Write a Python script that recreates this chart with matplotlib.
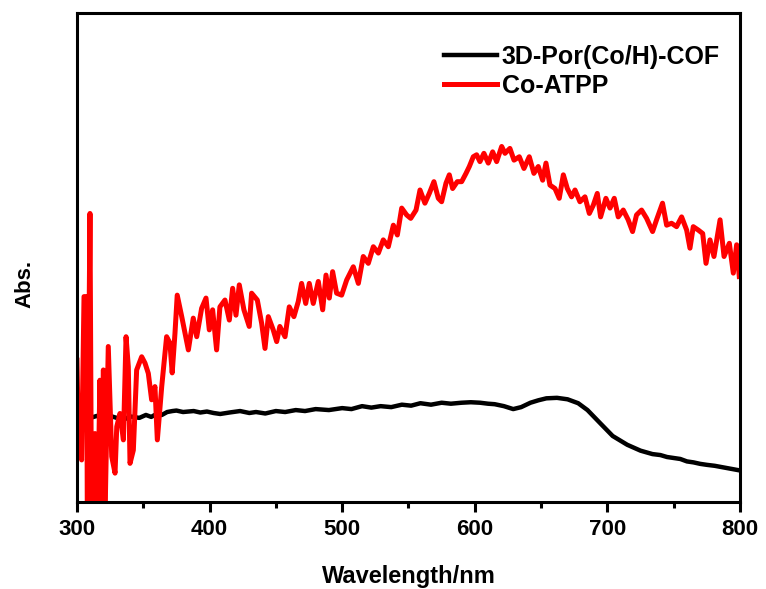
import matplotlib
matplotlib.use("Agg")
import matplotlib.pyplot as plt
from matplotlib.ticker import MultipleLocator

plt.rcParams['font.family'] = ['Liberation Sans', 'DejaVu Sans']
plt.rcParams['font.weight'] = 'bold'

# 3D-Por(Co/H)-COF (black)
wl_cof = [300, 305, 310, 315, 320, 325, 330, 335, 340, 347, 352, 356, 360, 364, 368, 372,
          375, 380, 388, 393, 398, 403, 408, 415, 423, 430, 435, 442, 450, 457, 465, 472,
          480, 490, 500, 507, 515, 522, 529, 537, 545, 552, 559, 567, 575, 582, 590, 597,
          604, 610, 615, 622, 629, 635, 642, 648, 654, 662, 670, 678, 685, 695, 704, 715,
          725, 734, 740, 745, 750, 755, 760, 765, 770, 775, 781, 787, 793, 799]
abs_cof = [0.174, 0.168, 0.172, 0.176, 0.170, 0.176, 0.172, 0.168, 0.175, 0.172, 0.178,
           0.174, 0.180, 0.178, 0.184, 0.186, 0.187, 0.184, 0.186, 0.183, 0.185, 0.182,
           0.180, 0.183, 0.186, 0.182, 0.184, 0.181, 0.186, 0.184, 0.188, 0.186, 0.190,
           0.188, 0.192, 0.190, 0.196, 0.193, 0.196, 0.194, 0.199, 0.197, 0.202, 0.199,
           0.203, 0.201, 0.203, 0.204, 0.203, 0.201, 0.200, 0.196, 0.190, 0.194, 0.203,
           0.208, 0.212, 0.213, 0.210, 0.202, 0.188, 0.160, 0.135, 0.117, 0.105, 0.098,
           0.096, 0.092, 0.090, 0.088, 0.083, 0.081, 0.078, 0.076, 0.074, 0.071, 0.068,
           0.065]

# Co-ATPP (red)
wl_atpp = [300, 301, 303.5, 305.3, 307.3, 307.8, 309.8, 311, 313.6, 315.5, 317.3, 318.6,
           319.9, 321, 323.6, 326.2, 328.7, 330, 332.4, 335, 337, 338.7, 340, 342.5, 345,
           348.8, 351.3, 353.8, 356.3, 358.8, 360.6, 363.9, 367.6, 370.1, 371.8, 373.9,
           375.6, 379, 384, 387.7, 390.3, 394, 397.3, 399.8, 402.3, 405.3, 407.8, 411.6,
           414.9, 417.4, 419.9, 422.4, 425.9, 429.9, 431.7, 436, 439.3, 441.8, 444.3, 448,
           450.6, 453, 456.9, 460.1, 463.6, 466.9, 469.4, 472.5, 475.2, 478.2, 482, 485.3,
           487.8, 490.3, 492.8, 495.8, 499.6, 503.4, 508.4, 512.2, 515.9, 519.7, 523.5,
           527.3, 531, 534.8, 538.6, 541.6, 544.9, 548.6, 551.7, 555.7, 558.7, 562.4,
           565.7, 569.2, 572.5, 575, 578.3, 580.8, 583.3, 586.8, 590.1, 593.4, 595.9,
           598.9, 601.4, 603.9, 606.9, 610.2, 613.5, 616.5, 620.3, 622.8, 626.5, 629.6,
           633.6, 637.1, 641.1, 644.6, 647.9, 651.2, 653.7, 656.7, 660.5, 663.7, 666.8,
           669.8, 673, 675.6, 679.3, 683.1, 686.4, 689.4, 692.4, 694.9, 698.9, 702,
           705.2, 708.2, 712, 715.7, 719, 722, 725.8, 729.6, 734.1, 737.1, 741.6, 744.7,
           748.4, 752.2, 756, 759.8, 762.3, 764.8, 768.6, 771.9, 774.4, 777.4, 780.4,
           785, 788, 792, 795, 797.5, 799.5]
abs_atpp = [0.290, 0.140, 0.086, 0.420, 0.420, -0.05, 0.590, -0.05, 0.140, -0.05, 0.249,
            -0.05, 0.270, -0.05, 0.318, 0.093, 0.059, 0.154, 0.181, 0.127, 0.338, 0.277,
            0.079, 0.106, 0.270, 0.297, 0.284, 0.263, 0.209, 0.236, 0.127, 0.236, 0.338,
            0.325, 0.264, 0.345, 0.423, 0.379, 0.311, 0.376, 0.338, 0.396, 0.417, 0.352,
            0.393, 0.311, 0.399, 0.413, 0.372, 0.437, 0.382, 0.444, 0.393, 0.359, 0.427,
            0.413, 0.365, 0.314, 0.379, 0.352, 0.328, 0.359, 0.338, 0.399, 0.379, 0.410,
            0.447, 0.406, 0.447, 0.406, 0.451, 0.393, 0.464, 0.417, 0.471, 0.427, 0.423,
            0.454, 0.481, 0.447, 0.502, 0.488, 0.522, 0.509, 0.536, 0.522, 0.566, 0.546,
            0.601, 0.587, 0.580, 0.597, 0.638, 0.611, 0.631, 0.655, 0.621, 0.614, 0.652,
            0.669, 0.641, 0.655, 0.655, 0.672, 0.686, 0.706, 0.710, 0.696, 0.713, 0.693,
            0.716, 0.696, 0.727, 0.713, 0.723, 0.699, 0.706, 0.682, 0.706, 0.672, 0.686,
            0.658, 0.693, 0.648, 0.641, 0.621, 0.669, 0.641, 0.624, 0.638, 0.614, 0.624,
            0.590, 0.607, 0.631, 0.583, 0.621, 0.601, 0.621, 0.583, 0.597, 0.577, 0.553,
            0.587, 0.597, 0.580, 0.553, 0.577, 0.611, 0.566, 0.570, 0.563, 0.583, 0.556,
            0.519, 0.563, 0.556, 0.549, 0.488, 0.536, 0.502, 0.577, 0.502, 0.529, 0.468,
            0.526, 0.461]

fig = plt.figure(figsize=(7.66, 5.89), dpi=100)
ax = fig.add_axes([0.1005, 0.1477, 0.8655, 0.8303])

ax.plot(wl_cof, abs_cof, color='black', lw=3.2, label='3D-Por(Co/H)-COF')
ax.plot(wl_atpp, abs_atpp, color='red', lw=3.6, label='Co-ATPP')

ax.set_xlim(300, 800)
ax.set_ylim(0, 1)
ax.xaxis.set_major_locator(MultipleLocator(100))
ax.xaxis.set_minor_locator(MultipleLocator(50))
ax.set_yticks([])
ax.tick_params(axis='x', which='major', direction='out', length=7, width=2.2,
               labelsize=16, pad=5)
ax.tick_params(axis='x', which='minor', direction='out', length=4, width=2.2)
for sp in ax.spines.values():
    sp.set_linewidth(2.2)

ax.set_xlabel('Wavelength/nm', fontsize=17, fontweight='bold', labelpad=18)
ax.set_ylabel('Abs.', fontsize=16, fontweight='bold')
ax.yaxis.set_label_coords(-0.062, 0.445)

ax.legend(loc='upper right', bbox_to_anchor=(0.97, 0.935), frameon=False,
          fontsize=18, handlelength=2.1, handletextpad=0.2, labelspacing=0.2,
          borderaxespad=0, borderpad=0)

fig.savefig('out.png', dpi=100)
